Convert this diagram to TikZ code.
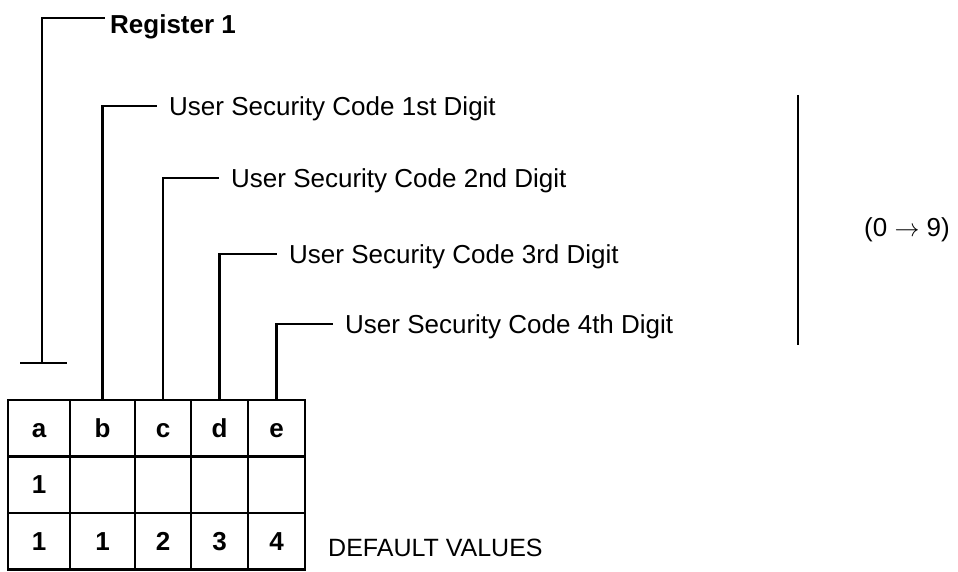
\documentclass[tikz,border=0pt]{standalone}
\usepackage{fontspec}
\setmainfont{Liberation Sans}
\usetikzlibrary{positioning}

\begin{document}
\begin{tikzpicture}[x=1pt,y=-1pt,
  cell/.style={draw,line width=2.8pt,minimum height=56.5pt,inner sep=0pt,outer sep=0pt,anchor=north west,text height=18pt,text depth=0pt,font=\fontsize{26}{30}\selectfont\bfseries},
  lbl/.style={anchor=west,inner xsep=12pt,inner ysep=0pt,text height=19pt,text depth=0pt,font=\fontsize{26}{30}\selectfont},
  wire/.style={line width=2.8pt}
]
\useasboundingbox (0,0) rectangle (958,572);

% register table
\node[cell,minimum width=62pt] (a1) at (8,400) {a};
\node[cell,minimum width=62pt,below=0pt of a1] (a2) {1};
\node[cell,minimum width=62pt,below=0pt of a2] (a3) {1};
\foreach \n/\p/\w/\hd/\dv in {b/a/65/b/1,c/b/56/c/2,d/c/57/d/3,e/d/57/e/4}{
  \node[cell,minimum width=\w pt,right=0pt of \p1] (\n1) {\hd};
  \node[cell,minimum width=\w pt,right=0pt of \p2] (\n2) {};
  \node[cell,minimum width=\w pt,right=0pt of \p3] (\n3) {\dv};
}
\node[lbl,inner xsep=0pt,right=23pt of e3,yshift=-6pt,font=\fontsize{25}{30}\selectfont] (dflt) {DEFAULT VALUES};

% labels
\node[lbl,inner xsep=5pt,font=\fontsize{26}{30}\selectfont\bfseries] (reg) at (105,24) {Register 1};
\node[lbl] (l1) at (157,106) {User Security Code 1st Digit};
\node[lbl] (l2) at (219,178) {User Security Code 2nd Digit};
\node[lbl] (l3) at (277,254) {User Security Code 3rd Digit};
\node[lbl] (l4) at (333,324) {User Security Code 4th Digit};

% connectors
\coordinate (regfoot) at (42,363);
\draw[wire] (regfoot) |- ([yshift=6pt]reg.west);
\draw[wire] ([xshift=-22pt]regfoot) -- ([xshift=25pt]regfoot);
\draw[wire] (b1.north) |- (l1.west);
\draw[wire] (c1.north) |- (l2.west);
\draw[wire] (d1.north) |- (l3.west);
\draw[wire] (e1.north) |- (l4.west);

% digit range
\coordinate (rtop) at (798,95);
\coordinate (rbot) at (798,345);
\draw[wire] (rtop) -- (rbot);
\node[font=\fontsize{26}{30}\selectfont] (range) at (907,230) {(0 $\rightarrow$ 9)};
\end{tikzpicture}
\end{document}
